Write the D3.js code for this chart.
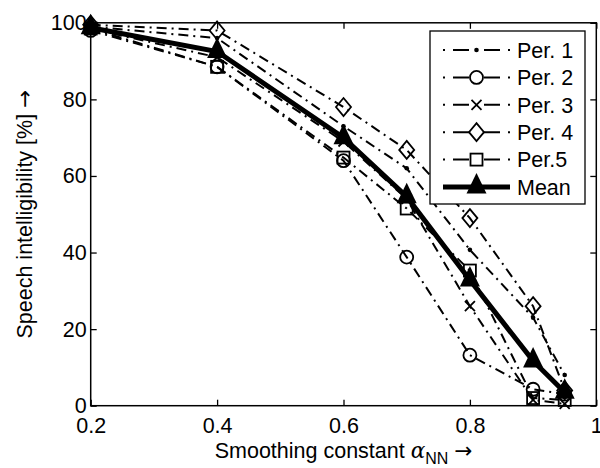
<!DOCTYPE html>
<html><head><meta charset="utf-8">
<script src="https://cdn.jsdelivr.net/npm/d3@7"></script>
<style>body{margin:0;background:#fff}svg{display:block}text{font-family:"Liberation Sans",Arial,sans-serif;fill:#000}</style>
</head><body>
<svg id="c" width="600" height="468"></svg>
<script>
const xValues = [0.2, 0.4, 0.6, 0.7, 0.8, 0.9, 0.95];
const per1 = [99, 96, 73, 62, 40.7, 23, 8];
const per2 = [98, 88.5, 64, 38.8, 13.2, 4.3, 3];
const per3 = [98.5, 91, 69, 54, 26, 1.5, 0.5];
const per4 = [99.5, 98, 78, 66.8, 49, 26, 4];
const per5 = [98.5, 88.5, 64.8, 51.5, 35.3, 2, 1.5];
const meanV = [98.7, 92.5, 70, 54.6, 32.8, 11.7, 3.5];
const seriesNames = ["Per. 1", "Per. 2", "Per. 3", "Per. 4", "Per.5", "Mean"];
const seriesMarkers = ["dot", "circle", "x", "diamond", "square", "triangle"];
const xTicks = [0.2, 0.4, 0.6, 0.8, 1];
const xTickLabels = ["0.2", "0.4", "0.6", "0.8", "1"];
const yTicks = [0, 20, 40, 60, 80, 100];

const series = [per1, per2, per3, per4, per5, meanV];
const svg = d3.select("#c");
const FS = 21.5;
const L = 90.7, R = 596.3, T = 22.8, B = 405.7;
const x = d3.scaleLinear().domain([0.2, 1]).range([L, R]);
const y = d3.scaleLinear().domain([0, 100]).range([B, T]);

const fmtX = (d, i) => xTickLabels[i];
const ax = svg.append("g");
ax.append("g").attr("transform", `translate(0,${B})`)
  .call(d3.axisBottom(x).tickValues(xTicks).tickFormat(fmtX).tickSizeInner(-6).tickSizeOuter(0).tickPadding(12));
ax.append("g").attr("transform", `translate(0,${T})`)
  .call(d3.axisTop(x).tickValues(xTicks).tickFormat("").tickSizeInner(-6).tickSizeOuter(0));
ax.append("g").attr("transform", `translate(${L},0)`)
  .call(d3.axisLeft(y).tickValues(yTicks).tickSizeInner(-6).tickSizeOuter(0).tickPadding(4));
ax.append("g").attr("transform", `translate(${R},0)`)
  .call(d3.axisRight(y).tickValues(yTicks).tickFormat("").tickSizeInner(-6).tickSizeOuter(0));
ax.selectAll(".domain").remove();
ax.selectAll("line").attr("stroke", "#000").attr("stroke-width", 1.3);
ax.selectAll("text").attr("font-size", FS).attr("font-family", "Liberation Sans, Arial, sans-serif").attr("fill", "#000");
svg.append("rect").attr("x", L).attr("y", T).attr("width", R - L).attr("height", B - T)
  .attr("fill", "none").attr("stroke", "#000").attr("stroke-width", 1.5);

function marker(g, type, cx, cy) {
  const sw = 1.8;
  if (type === "dot") g.append("circle").attr("cx", cx).attr("cy", cy).attr("r", 2.3).attr("fill", "#000");
  else if (type === "circle") g.append("circle").attr("cx", cx).attr("cy", cy).attr("r", 6.5).attr("fill", "none").attr("stroke", "#000").attr("stroke-width", sw);
  else if (type === "x") g.append("path").attr("d", `M${cx-5},${cy-5}L${cx+5},${cy+5}M${cx-5},${cy+5}L${cx+5},${cy-5}`).attr("stroke", "#000").attr("stroke-width", sw);
  else if (type === "diamond") g.append("path").attr("d", `M${cx},${cy-9}L${cx+7.5},${cy}L${cx},${cy+9}L${cx-7.5},${cy}Z`).attr("fill", "none").attr("stroke", "#000").attr("stroke-width", sw);
  else if (type === "square") g.append("rect").attr("x", cx-6).attr("y", cy-6).attr("width", 12).attr("height", 12).attr("fill", "none").attr("stroke", "#000").attr("stroke-width", sw);
  else if (type === "triangle") g.append("path").attr("d", `M${cx},${cy-14}L${cx+10},${cy+6.5}L${cx-10},${cy+6.5}Z`).attr("fill", "#000");
}

const line = d3.line().x((d, i) => x(xValues[i])).y(d => y(d));
const plot = svg.append("g");
series.forEach((s, k) => {
  const isMean = k === 5;
  plot.append("path").datum(s).attr("d", line).attr("fill", "none").attr("stroke", "#000")
    .attr("stroke-width", isMean ? 5 : 2)
    .attr("stroke-dasharray", isMean ? null : "10,5,2,5");
  s.forEach((v, i) => marker(plot, seriesMarkers[k], x(xValues[i]), y(v)));
});

// legend
const lg = svg.append("g");
lg.append("rect").attr("x", 430).attr("y", 31).attr("width", 155).attr("height", 173)
  .attr("fill", "#fff").attr("stroke", "#000").attr("stroke-width", 1.3);
const rowY = d3.scaleLinear().domain([0, 5]).range([50, 187]);
seriesNames.forEach((name, k) => {
  const yy = rowY(k);
  const isMean = k === 5;
  lg.append("line").attr("x1", 443).attr("x2", 510).attr("y1", yy).attr("y2", yy)
    .attr("stroke", "#000").attr("stroke-width", isMean ? 5 : 2)
    .attr("stroke-dasharray", isMean ? null : "2,8,16,15,16,8,2");
  marker(lg, seriesMarkers[k], 476.5, yy);
  lg.append("text").attr("x", 517).attr("y", yy + 7.7).attr("font-size", FS).text(name);
});

// axis labels
const yl = svg.append("text").attr("transform", "translate(31.5,214.2) rotate(-90)").attr("text-anchor", "middle")
  .attr("font-size", FS);
yl.append("tspan").text("Speech intelligibility [%] ");
yl.append("tspan").attr("font-family", "DejaVu Sans").text("\u2192");
const xl = svg.append("text").attr("x", 343.5).attr("y", 458).attr("text-anchor", "middle").attr("font-size", FS);
xl.append("tspan").text("Smoothing constant ");
xl.append("tspan").attr("font-family", "DejaVu Serif").attr("font-style", "italic").text("\u03B1");
xl.append("tspan").attr("dy", 6).attr("font-size", 16).text("NN");
xl.append("tspan").attr("dy", -6).text(" ");
xl.append("tspan").attr("font-family", "DejaVu Sans").text("\u2192");
</script>
</body></html>
